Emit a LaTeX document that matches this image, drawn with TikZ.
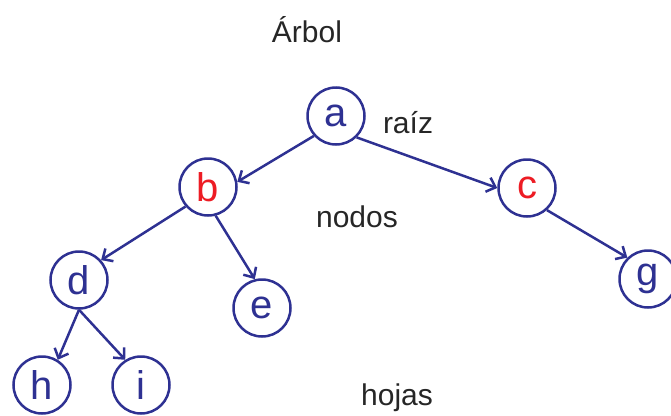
\documentclass[tikz,border=0pt]{standalone}
\usepackage{fontspec}
\setmainfont{Liberation Sans}
\usetikzlibrary{arrows.meta}
\definecolor{navy}{RGB}{46,49,146}
\definecolor{rojo}{RGB}{237,28,36}

\tikzstyle{nodo}=[circle,
    draw=navy,
    line width=2.5pt,
    minimum size=57pt,
    inner sep=0pt,
    text=navy,
    font=\fontsize{40}{46}\selectfont]
\tikzstyle{interno}=[nodo, text=rojo]
\tikzstyle{etiqueta}=[anchor=base, inner sep=0pt, text=black!85,
    font=\fontsize{30}{36}\selectfont]
\tikzstyle{arista}=[draw=navy, line width=2.5pt,
    -{Straight Barb[length=8pt,width=15pt,line width=2.5pt]}]

\begin{document}
\begin{tikzpicture}[x=1pt, y=-1pt]
    \useasboundingbox (0,0) rectangle (671,415);
    \node (titulo) [etiqueta] at (307,42) {Árbol};
    \node (a) [nodo] at (336,116) {a};
    \node (raiz) [etiqueta] at (408,133) {raíz};
    \node (b) [interno] at (208,187) {b};
    \node (c) [interno] at (527,188) {c};
    \node (nodos) [etiqueta] at (357,227) {nodos};
    \node (d) [nodo] at (79,280) {d};
    \node (e) [nodo] at (262,308) {e};
    \node (g) [nodo] at (648,279) {g};
    \node (h) [nodo] at (42,385) {h};
    \node (i) [nodo] at (141,385) {i};
    \node (hojas) [etiqueta] at (397,405) {hojas};
    \draw [arista] (a.222) -- (b.10);
    \draw [arista] (a.314) -- (c.180);
    \draw [arista] (b.221) -- (d.42);
    \draw [arista] (b.285) -- (e.104);
    \draw [arista] (c.312) -- (g.134);
    \draw [arista] (d.270) -- (h.58);
    \draw [arista] (d.270) -- (i.122);
\end{tikzpicture}
\end{document}
